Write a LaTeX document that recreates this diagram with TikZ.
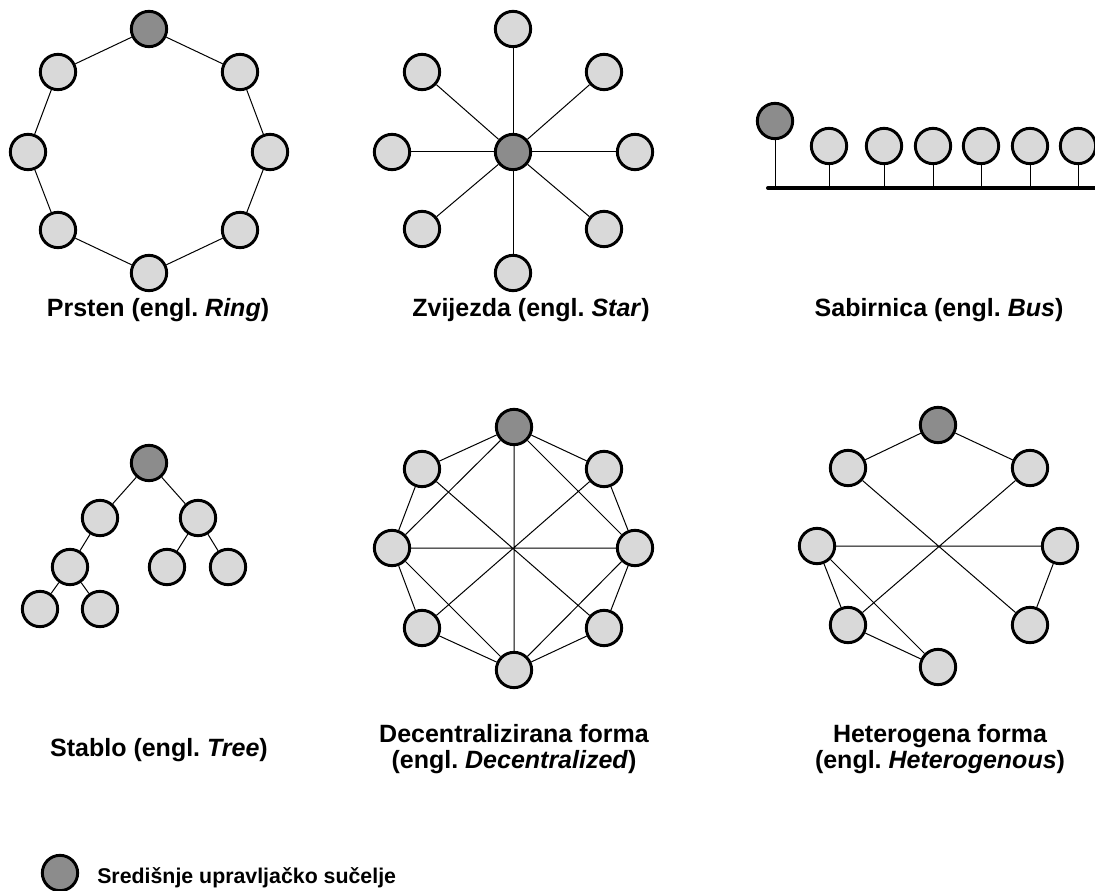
\documentclass[tikz,border=0pt]{standalone}
\usepackage{fontspec}
\setmainfont{Liberation Sans}
\frenchspacing
\definecolor{darkfill}{RGB}{140,140,140}
\definecolor{lightfill}{RGB}{217,217,217}
\begin{document}
\begin{tikzpicture}[x=0.75pt,y=-0.75pt,
  nd/.style={circle,draw=black,line width=2.2pt,fill=lightfill,inner sep=0pt,minimum size=26.5pt},
  cn/.style={nd,fill=darkfill},
  ed/.style={line width=0.75pt},
  bus/.style={line width=3pt,line cap=round},
  lbl/.style={font=\fontsize{18.75}{19}\selectfont\bfseries,align=center,inner sep=0pt},
  lgd/.style={font=\fontsize{16}{18}\selectfont\bfseries,inner sep=0pt}]
\clip (0,0) rectangle (1095,891);
\fill[white] (0,0) rectangle (1095,891);

% ---- Ring ----
\node[cn] (r0) at (149,29) {};
\node[nd] (r1) at (240,72) {};
\node[nd] (r2) at (270,152) {};
\node[nd] (r3) at (240,230) {};
\node[nd] (r4) at (149,273) {};
\node[nd] (r5) at (58,230) {};
\node[nd] (r6) at (28,152) {};
\node[nd] (r7) at (58,72) {};
\draw[ed] (r0)--(r1) (r1)--(r2) (r2)--(r3) (r3)--(r4) (r4)--(r5) (r5)--(r6) (r6)--(r7) (r7)--(r0);
\node[lbl,anchor=base] (lr) at (158,316) {Prsten (engl. \textit{Ring})};

% ---- Star ----
\node[cn] (s0) at (513,152) {};
\node[nd] (s1) at (513,29) {};
\node[nd] (s2) at (604,72) {};
\node[nd] (s3) at (635,152) {};
\node[nd] (s4) at (604,229) {};
\node[nd] (s5) at (513,273) {};
\node[nd] (s6) at (422,229) {};
\node[nd] (s7) at (392,152) {};
\node[nd] (s8) at (422,72) {};
\foreach \i in {1,...,8} {\draw[ed] (s0)--(s\i);}
\node[lbl,anchor=base] (ls) at (531,316) {Zvijezda (engl. \textit{Star})};

% ---- Bus ----
\coordinate (busL) at (768,188);
\coordinate (busR) at (1110,188);
\draw[bus] (busL)--(busR);
\node[cn] (b0) at (775,121) {};
\node[nd] (b1) at (829,146) {};
\node[nd] (b2) at (884,146) {};
\node[nd] (b3) at (933,146) {};
\node[nd] (b4) at (981,146) {};
\node[nd] (b5) at (1030,146) {};
\node[nd] (b6) at (1078,146) {};
\foreach \i in {0,...,6} {\draw[ed] (b\i)--(b\i |- busL);}
\node[lbl,anchor=base] (lb) at (939,316) {Sabirnica (engl. \textit{Bus})};

% ---- Tree ----
\node[cn] (t0) at (149,463) {};
\node[nd] (t1) at (100,518) {};
\node[nd] (t2) at (198,518) {};
\node[nd] (t3) at (70,567) {};
\node[nd] (t4) at (167,567) {};
\node[nd] (t5) at (228,567) {};
\node[nd] (t6) at (40,609) {};
\node[nd] (t7) at (100,609) {};
\draw[ed] (t0)--(t1) (t0)--(t2) (t1)--(t3) (t2)--(t4) (t2)--(t5) (t3)--(t6) (t3)--(t7);
\node[lbl,anchor=base] (lt) at (159,756) {Stablo (engl. \textit{Tree})};

% ---- Decentralized ----
\node[cn] (d0) at (514,427) {};
\node[nd] (d1) at (604,469) {};
\node[nd] (d2) at (635,548) {};
\node[nd] (d3) at (604,628) {};
\node[nd] (d4) at (514,670) {};
\node[nd] (d5) at (422,628) {};
\node[nd] (d6) at (392,548) {};
\node[nd] (d7) at (422,469) {};
\draw[ed] (d0)--(d1) (d1)--(d2) (d2)--(d3) (d3)--(d4) (d4)--(d5) (d5)--(d6) (d6)--(d7) (d7)--(d0)
  (d0)--(d4) (d1)--(d5) (d2)--(d6) (d3)--(d7)
  (d0)--(d2) (d2)--(d4) (d4)--(d6) (d6)--(d0);
\node[lbl,anchor=center] (ld) at (514,749) {Decentralizirana forma\\(engl. \textit{Decentralized})};

% ---- Heterogeneous ----
\node[cn] (h0) at (938,425) {};
\node[nd] (h1) at (1030,468) {};
\node[nd] (h2) at (1060,546) {};
\node[nd] (h3) at (1030,625) {};
\node[nd] (h4) at (938,667) {};
\node[nd] (h5) at (848,625) {};
\node[nd] (h6) at (817,546) {};
\node[nd] (h7) at (848,468) {};
\draw[ed] (h0)--(h7) (h0)--(h1) (h7)--(h3) (h1)--(h5) (h6)--(h2)
  (h6)--(h5) (h6)--(h4) (h5)--(h4) (h2)--(h3);
\node[lbl,anchor=center] (lh) at (940,749) {Heterogena forma\\(engl. \textit{Heterogenous})};

% ---- Legend ----
\node[cn] (lg) at (60,873) {};
\node[lgd,anchor=base west] (lgt) at (97,883) {Središnje upravljačko sučelje};
\end{tikzpicture}
\end{document}
